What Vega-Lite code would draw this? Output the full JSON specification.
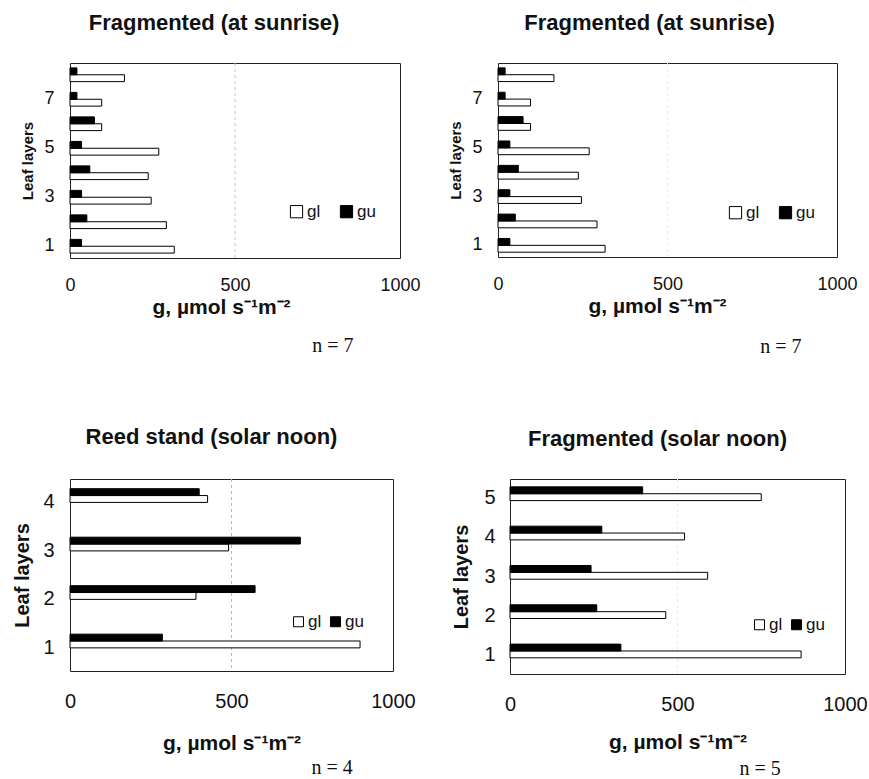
{
  "$schema": "https://vega.github.io/schema/vega-lite/v6.json",
  "background": "white",
  "padding": {"left": 12, "top": 11, "right": 5, "bottom": 0},
  "datasets": {
    "sunrise": [
      {"layer": 1, "series": "gl", "g": 316}, {"layer": 1, "series": "gu", "g": 35},
      {"layer": 2, "series": "gl", "g": 292}, {"layer": 2, "series": "gu", "g": 51},
      {"layer": 3, "series": "gl", "g": 246}, {"layer": 3, "series": "gu", "g": 35},
      {"layer": 4, "series": "gl", "g": 237}, {"layer": 4, "series": "gu", "g": 60},
      {"layer": 5, "series": "gl", "g": 269}, {"layer": 5, "series": "gu", "g": 35},
      {"layer": 6, "series": "gl", "g": 96}, {"layer": 6, "series": "gu", "g": 74},
      {"layer": 7, "series": "gl", "g": 96}, {"layer": 7, "series": "gu", "g": 21},
      {"layer": 8, "series": "gl", "g": 165}, {"layer": 8, "series": "gu", "g": 21}
    ],
    "reed_noon": [
      {"layer": 1, "series": "gl", "g": 898}, {"layer": 1, "series": "gu", "g": 286},
      {"layer": 2, "series": "gl", "g": 390}, {"layer": 2, "series": "gu", "g": 573},
      {"layer": 3, "series": "gl", "g": 491}, {"layer": 3, "series": "gu", "g": 713},
      {"layer": 4, "series": "gl", "g": 426}, {"layer": 4, "series": "gu", "g": 400}
    ],
    "frag_noon": [
      {"layer": 1, "series": "gl", "g": 869}, {"layer": 1, "series": "gu", "g": 331},
      {"layer": 2, "series": "gl", "g": 465}, {"layer": 2, "series": "gu", "g": 259},
      {"layer": 3, "series": "gl", "g": 590}, {"layer": 3, "series": "gu", "g": 242},
      {"layer": 4, "series": "gl", "g": 521}, {"layer": 4, "series": "gu", "g": 274},
      {"layer": 5, "series": "gl", "g": 750}, {"layer": 5, "series": "gu", "g": 396}
    ],
    "gridline": [{"g": 500}]
  },
  "spacing": 68,
  "resolve": {"scale": {"color": "independent"}, "legend": {"color": "independent"}},
  "vconcat": [
    {
      "spacing": 27,
      "resolve": {"scale": {"color": "independent"}, "legend": {"color": "independent"}},
      "hconcat": [
        {
          "title": {"text": "n = 7", "orient": "bottom", "anchor": "end", "font": "Liberation Serif", "fontSize": 20, "fontWeight": "normal", "offset": 18, "dx": -67},
          "resolve": {"scale": {"color": "independent"}, "legend": {"color": "independent"}},
          "vconcat": [
            {
              "title": {"text": "Fragmented (at sunrise)", "dx": -21, "offset": 28},
              "width": 330, "height": 195,
              "data": {"name": "sunrise"},
              "encoding": {
                "x": {"field": "g", "type": "quantitative", "scale": {"domain": [0, 1000], "nice": false},
                      "axis": {"values": [0, 500, 1000], "format": "d", "title": "g, µmol s⁻¹m⁻²", "titleX": 151}}
              },
              "layer": [
                {"data": {"name": "gridline"}, "mark": {"type": "rule", "color": "#c4c4c4", "strokeDash": [3, 3]}, "encoding": {}},
                {
                  "mark": {"type": "bar", "stroke": "black", "strokeWidth": 1},
                  "encoding": {
                    "y": {"field": "layer", "type": "ordinal", "sort": "descending", "scale": {"paddingInner": 0.44, "paddingOuter": 0.2},
                          "axis": {"values": [1, 3, 5, 7], "title": "Leaf layers"}},
                    "yOffset": {"field": "series", "type": "nominal", "sort": ["gu", "gl"]},
                    "color": {"field": "series", "type": "nominal", "scale": {"domain": ["gl", "gu"], "range": ["white", "black"]},
                              "legend": {"orient": "none", "legendX": 218, "legendY": 140, "direction": "horizontal", "title": null,
                                         "symbolType": "square", "symbolSize": 150, "symbolStrokeColor": "black", "symbolStrokeWidth": 1,
                                         "labelFontSize": 17, "labelOffset": 2, "columnPadding": 17}}
                  }
                }
              ]
            }
          ]
        },
        {
          "title": {"text": "n = 7", "orient": "bottom", "anchor": "end", "font": "Liberation Serif", "fontSize": 20, "fontWeight": "normal", "offset": 20, "dx": -56},
          "resolve": {"scale": {"color": "independent"}, "legend": {"color": "independent"}},
          "vconcat": [
            {
              "title": {"text": "Fragmented (at sunrise)", "dx": -18, "offset": 28},
              "width": 339, "height": 194,
              "data": {"name": "sunrise"},
              "encoding": {
                "x": {"field": "g", "type": "quantitative", "scale": {"domain": [0, 1000], "nice": false},
                      "axis": {"values": [0, 500, 1000], "format": "d", "title": "g, µmol s⁻¹m⁻²", "titleX": 159}}
              },
              "layer": [
                {"data": {"name": "gridline"}, "mark": {"type": "rule", "color": "#ececec", "strokeDash": [3, 3]}, "encoding": {}},
                {
                  "mark": {"type": "bar", "stroke": "black", "strokeWidth": 1},
                  "encoding": {
                    "y": {"field": "layer", "type": "ordinal", "sort": "descending", "scale": {"paddingInner": 0.44, "paddingOuter": 0.2},
                          "axis": {"values": [1, 3, 5, 7], "title": "Leaf layers"}},
                    "yOffset": {"field": "series", "type": "nominal", "sort": ["gu", "gl"]},
                    "color": {"field": "series", "type": "nominal", "scale": {"domain": ["gl", "gu"], "range": ["white", "black"]},
                              "legend": {"orient": "none", "legendX": 229, "legendY": 141, "direction": "horizontal", "title": null,
                                         "symbolType": "square", "symbolSize": 150, "symbolStrokeColor": "black", "symbolStrokeWidth": 1,
                                         "labelFontSize": 17, "labelOffset": 2, "columnPadding": 17}}
                  }
                }
              ]
            }
          ]
        }
      ]
    },
    {
      "spacing": 35,
      "resolve": {"scale": {"color": "independent"}, "legend": {"color": "independent"}},
      "hconcat": [
        {
          "title": {"text": "n = 4", "orient": "bottom", "anchor": "end", "font": "Liberation Serif", "fontSize": 20, "fontWeight": "normal", "offset": 4, "dx": -63},
          "resolve": {"scale": {"color": "independent"}, "legend": {"color": "independent"}},
          "vconcat": [
            {
              "title": {"text": "Reed stand (solar noon)", "dx": -20, "offset": 30},
              "width": 323, "height": 192,
              "data": {"name": "reed_noon"},
              "encoding": {
                "x": {"field": "g", "type": "quantitative", "scale": {"domain": [0, 1000], "nice": false},
                      "axis": {"values": [0, 500, 1000], "format": "d", "title": "g, µmol s⁻¹m⁻²", "labelFontSize": 20, "labelPadding": 20, "titlePadding": 21}}
              },
              "layer": [
                {"data": {"name": "gridline"}, "mark": {"type": "rule", "color": "#b8b8b8", "strokeDash": [3, 3]}, "encoding": {}},
                {
                  "mark": {"type": "bar", "stroke": "black", "strokeWidth": 1},
                  "encoding": {
                    "y": {"field": "layer", "type": "ordinal", "sort": "descending", "scale": {"paddingInner": 0.44, "paddingOuter": 0.2},
                          "axis": {"title": "Leaf layers", "titleFontSize": 20, "labelFontSize": 20, "titlePadding": 10}},
                    "yOffset": {"field": "series", "type": "nominal", "sort": ["gu", "gl"]},
                    "color": {"field": "series", "type": "nominal", "scale": {"domain": ["gl", "gu"], "range": ["white", "black"]},
                              "legend": {"orient": "none", "legendX": 220, "legendY": 134, "direction": "horizontal", "title": null,
                                         "symbolType": "square", "symbolSize": 100, "symbolStrokeColor": "black", "symbolStrokeWidth": 1,
                                         "labelFontSize": 17, "labelOffset": 1, "columnPadding": 5}}
                  }
                }
              ]
            }
          ]
        },
        {
          "title": {"text": "n = 5", "orient": "bottom", "anchor": "end", "font": "Liberation Serif", "fontSize": 20, "fontWeight": "normal", "offset": 6, "dx": -87},
          "resolve": {"scale": {"color": "independent"}, "legend": {"color": "independent"}},
          "vconcat": [
            {
              "title": {"text": "Fragmented (solar noon)", "dx": -20, "offset": 28},
              "width": 335, "height": 195,
              "data": {"name": "frag_noon"},
              "encoding": {
                "x": {"field": "g", "type": "quantitative", "scale": {"domain": [0, 1000], "nice": false},
                      "axis": {"values": [0, 500, 1000], "format": "d", "title": "g, µmol s⁻¹m⁻²", "labelFontSize": 20, "labelPadding": 20, "titlePadding": 17}}
              },
              "layer": [
                {"data": {"name": "gridline"}, "mark": {"type": "rule", "color": "#ececec", "strokeDash": [3, 3]}, "encoding": {}},
                {
                  "mark": {"type": "bar", "stroke": "black", "strokeWidth": 1},
                  "encoding": {
                    "y": {"field": "layer", "type": "ordinal", "sort": "descending", "scale": {"paddingInner": 0.44, "paddingOuter": 0.2},
                          "axis": {"title": "Leaf layers", "titleFontSize": 20, "labelFontSize": 20, "titlePadding": 12, "labelPadding": 15}},
                    "yOffset": {"field": "series", "type": "nominal", "sort": ["gu", "gl"]},
                    "color": {"field": "series", "type": "nominal", "scale": {"domain": ["gl", "gu"], "range": ["white", "black"]},
                              "legend": {"orient": "none", "legendX": 241, "legendY": 137, "direction": "horizontal", "title": null,
                                         "symbolType": "square", "symbolSize": 100, "symbolStrokeColor": "black", "symbolStrokeWidth": 1,
                                         "labelFontSize": 17, "labelOffset": 1, "columnPadding": 5}}
                  }
                }
              ]
            }
          ]
        }
      ]
    }
  ],
  "config": {
    "font": "Liberation Sans",
    "view": {"stroke": "#222", "strokeWidth": 1},
    "title": {"fontSize": 22, "fontWeight": "bold", "color": "#111"},
    "axis": {"ticks": false, "domain": false, "grid": false, "labelFontSize": 18, "labelColor": "#111",
             "titleFontSize": 21, "titleFontWeight": "bold", "titleColor": "#111"},
    "axisX": {"labelFlush": false, "labelOverlap": false, "labelPadding": 18, "titlePadding": 2},
    "axisY": {"labelPadding": 16, "titlePadding": 8, "labelAngle": 0, "titleFontSize": 15},
    "legend": {"labelColor": "#111"}
  }
}
